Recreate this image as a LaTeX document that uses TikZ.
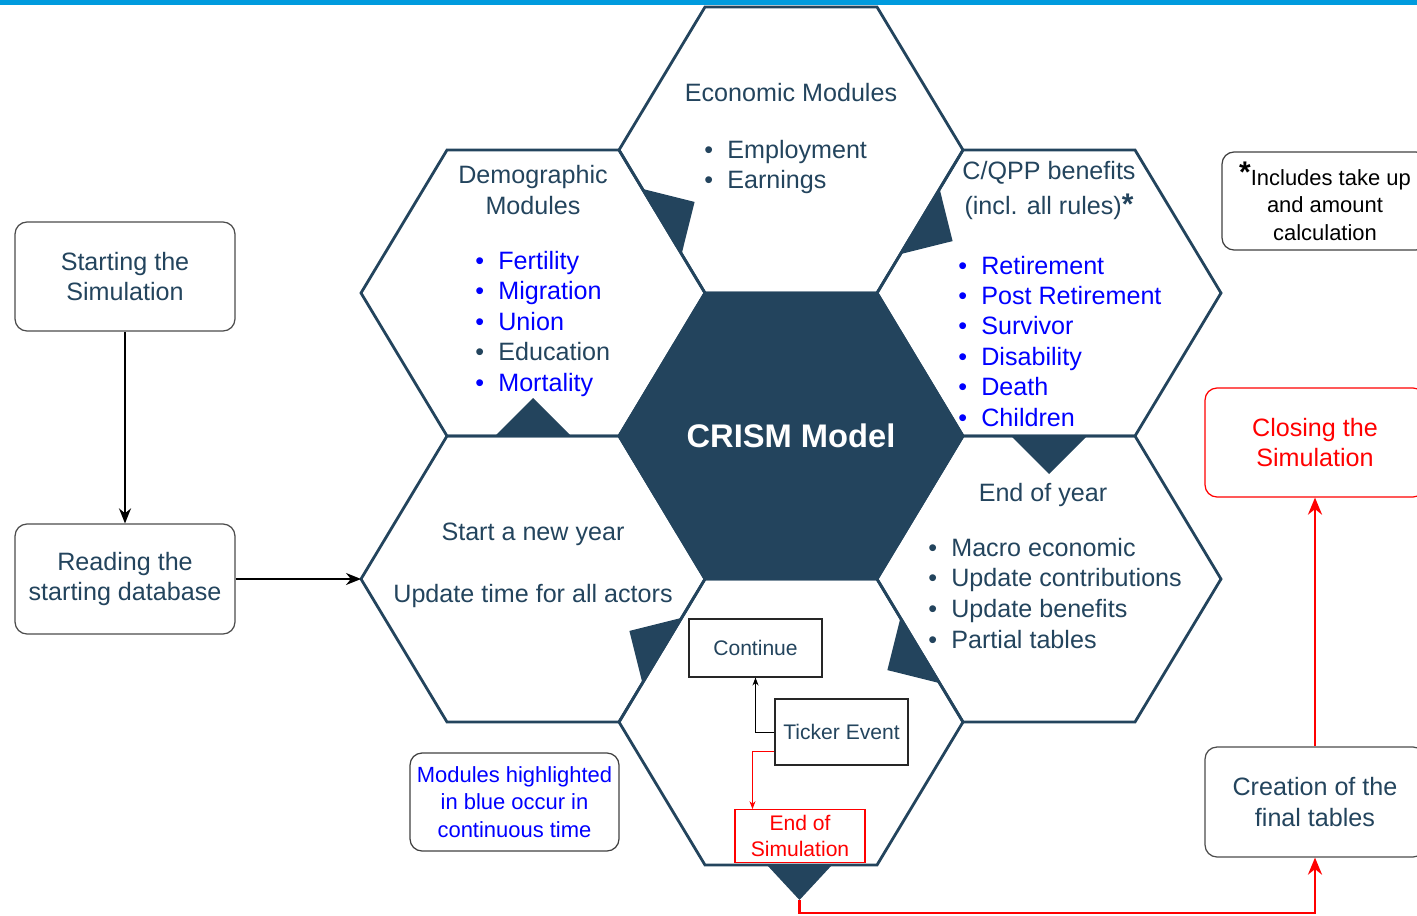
\documentclass[tikz,border=0pt]{standalone}
\usepackage{fontspec}
\setmainfont{Liberation Sans}
\usetikzlibrary{arrows.meta, positioning, calc}

\definecolor{navy}{HTML}{23445D}
\definecolor{topblue}{HTML}{009BDE}
\definecolor{modblue}{HTML}{0000FF}
\definecolor{modred}{HTML}{FF0000}

\newcommand{\bul}{\makebox[0.46cm][l]{\textbullet}}

\begin{document}
\begin{tikzpicture}[x=0.02cm, y=-0.02cm,
    hexline/.style={draw=navy, line width=1.6pt},
    title/.style={anchor=base, inner sep=0, text=navy, font=\fontsize{14.3}{17}\selectfont},
    item/.style={anchor=base west, inner sep=0, font=\fontsize{14.3}{17}\selectfont},
    box/.style={draw=black!70, rounded corners=0.24cm, line width=0.7pt, align=center, text=navy, font=\fontsize{14.3}{17.6}\selectfont},
    note/.style={draw=black!75, rounded corners=0.24cm, line width=0.7pt, align=center, font=\fontsize{12.5}{15.6}\selectfont},
    event/.style={draw=black!85, line width=0.6pt, align=center, text=navy, font=\fontsize{12}{14.5}\selectfont},
    flow/.style={-{Stealth[length=0.3cm, width=0.24cm]}, line width=1.1pt},
    redflow/.style={-{Stealth[length=0.34cm, width=0.28cm]}, line width=1.6pt, modred},
    thin/.style={-{Stealth[length=0.16cm, width=0.12cm]}, line width=0.5pt},
    ]
    \useasboundingbox (0,0) rectangle (1417,916);
    \fill[topblue] (0,0) rectangle (1417,5);

    % hexagon centres
    \foreach \n/\x/\y in {hT/791/150, hUL/533/293, hUR/1049/293, hC/791/436, hLL/533/579, hLR/1049/579, hB/791/722}
        \coordinate (\n) at (\x,\y);

    \fill[navy, shift={(hC)}] (-172,0) -- (-86,-143) -- (86,-143) -- (172,0) -- (86,143) -- (-86,143) -- cycle;
    \foreach \n in {hT, hUL, hUR, hC, hLL, hLR, hB}
        \draw[hexline, shift={(\n)}] (-172,0) -- (-86,-143) -- (86,-143) -- (172,0) -- (86,143) -- (-86,143) -- cycle;

    % direction marks on the shared edges
    \fill[navy] (495,436) -- (571,436) -- (533,398) -- cycle;
    \fill[navy] (642.4,188.9) -- (681.6,254.1) -- (694.6,201.9) -- cycle;
    \fill[navy] (939.6,188.9) -- (900.4,254.1) -- (952.6,241.1) -- cycle;
    \fill[navy] (1011,436) -- (1087,436) -- (1049,474) -- cycle;
    \fill[navy] (900.4,617.9) -- (939.6,683.1) -- (887.4,670.1) -- cycle;
    \fill[navy] (681.6,617.9) -- (642.4,683.1) -- (629.4,630.9) -- cycle;
    \fill[navy] (767,865) -- (832,865) -- (799.5,900) -- cycle;

    \node[text=white, font=\fontsize{18.6}{20}\selectfont\bfseries] (crism) at (hC) {CRISM Model};

    % economic modules
    \node[title] (econ) at (791,101) {Economic Modules};
    \foreach \txt [count=\i from 0] in {Employment, Earnings}
        \node[item, text=navy] (eco\i) at (704, 158+30*\i) {\bul\txt};

    % demographic modules
    \node[title] (demoA) at (533,183) {Demographic};
    \node[title] (demoB) at (533,214) {Modules};
    \foreach \txt/\col [count=\i from 0] in {Fertility/modblue, Migration/modblue, Union/modblue, Education/navy, Mortality/modblue}
        \node[item, text=\col] (demo\i) at (475, 269+30.5*\i) {\bul\txt};

    % benefits
    \node[title] (qppA) at (1049,179) {C/QPP benefits};
    \node[title] (qppB) at (1049,214) {(incl. all rules){\fontsize{17}{17}\selectfont\textbf{*}}};
    \foreach \txt [count=\i from 0] in {Retirement, Post Retirement, Survivor, Disability, Death, Children}
        \node[item, text=modblue] (qpp\i) at (958, 274+30.4*\i) {\bul\txt};

    % end of year
    \node[title] (eoy) at (1043,501) {End of year};
    \foreach \txt [count=\i from 0] in {Macro economic, Update contributions, Update benefits, Partial tables}
        \node[item, text=navy] (eoy\i) at (928, 556+30.7*\i) {\bul\txt};

    % new year
    \node[title] (newA) at (533,540) {Start a new year};
    \node[title] (newB) at (533,602) {Update time for all actors};

    % events inside the bottom hexagon
    \node[event, minimum width=2.66cm, minimum height=1.16cm] (cont) at (755.5,648) {Continue};
    \node[event, minimum width=2.66cm, minimum height=1.32cm] (ticker) at (841.5,732) {Ticker Event};
    \node[event, draw=modred, text=modred, minimum width=2.6cm, minimum height=1.04cm] (endsim) at (800,836) {End of\\Simulation};
    \draw[thin] (ticker.west) -| (cont.south);
    \draw[thin, modred] ([yshift=-0.38cm]ticker.west) -| ([xshift=0.36cm]endsim.north west);

    % outer steps
    \node[box, minimum width=4.4cm, minimum height=2.18cm] (start) at (125,276.5) {Starting the\\Simulation};
    \node[box, minimum width=4.4cm, minimum height=2.2cm] (read) at (125,579) {Reading the\\starting database};
    \coordinate (llw) at (361,579);
    \draw[flow] (start) -- (read);
    \draw[flow] (read) -- (llw);

    \node[note, text=modblue, minimum width=4.18cm, minimum height=1.96cm] (legend) at (514.5,802) {Modules highlighted\\in blue occur in\\continuous time};
    \node[note, minimum width=4.12cm, minimum height=1.96cm] (takeup) at (1325,201) {\raisebox{2pt}{\fontsize{17}{17}\selectfont\textbf{*}}Includes take up\\and amount\\calculation};

    \node[box, draw=modred, text=modred, minimum width=4.4cm, minimum height=2.18cm] (close) at (1315,442.5) {Closing the\\Simulation};
    \node[box, minimum width=4.4cm, minimum height=2.2cm] (create) at (1315,802) {Creation of the\\final tables};

    \coordinate (btip) at (799.5,900);
    \coordinate (bend) at (799.5,913);
    \draw[redflow] (btip) -- (bend) -| (create.south);
    \draw[redflow] (create) -- (close);
\end{tikzpicture}
\end{document}
